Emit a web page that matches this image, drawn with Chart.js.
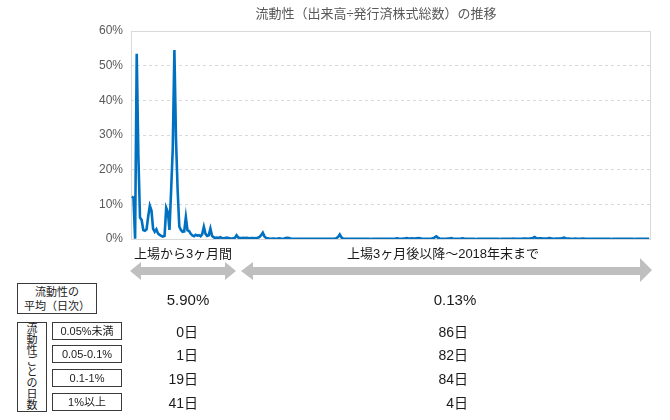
<!DOCTYPE html>
<html><head><meta charset="utf-8">
<script src="https://cdn.jsdelivr.net/npm/chart.js@4.4.1/dist/chart.umd.min.js"></script>
<style>
html,body{margin:0;padding:0;background:#fff;}
#wrap{position:relative;width:670px;height:420px;overflow:hidden;font-family:"Liberation Sans","Noto Sans CJK JP",sans-serif;color:#1a1a1a;}
#c{position:absolute;left:0;top:0;}
.t{position:absolute;white-space:nowrap;}
.box{position:absolute;border:1px solid #3a3a3a;box-sizing:border-box;display:flex;align-items:center;justify-content:center;text-align:center;font-size:11px;line-height:14px;background:#fff;}
.box span{display:block;}
.vert{font-size:11px;line-height:11px;}
svg{position:absolute;left:0;top:0;}
</style></head>
<body>
<div id="wrap">
<canvas id="c" width="670" height="420"></canvas>
<svg width="670" height="420" id="arrows"></svg>
</div>
<script>
// ---- data ----
const chartTitle = '流動性（出来高÷発行済株式総数）の推移';
const yTicks = [0, 10, 20, 30, 40, 50, 60];
// daily liquidity (%) : first 3 months after listing (61 days)
const firstPeriod = [
  12.2, 11.9, 0.08, 53.4, 24.0, 6.2, 5.5, 2.6, 2.4, 2.8,
  6.5, 9.6, 8.2, 2.9, 2.1, 2.8, 1.6, 1.2, 0.9, 0.7,
  0.9, 9.0, 7.8, 2.6, 14.0, 26.0, 54.5, 28.5, 14.0, 3.6,
  2.6, 2.1, 2.2, 6.3, 2.5, 2.3, 1.5, 1.0, 0.8, 1.2,
  0.95, 1.1, 0.8, 1.4, 3.5, 1.5, 0.9, 1.1, 3.0, 0.9,
  0.5, 0.3, 0.4, 0.3, 0.5, 0.3, 0.2, 0.3, 0.4, 0.3,
  0.2
];
// daily liquidity (%) : from 3 months after listing to end of 2018 (256 days)
const laterPeriod = [
  0.12, 0.18, 0.35, 1.05, 0.42, 0.30, 0.28, 0.33, 0.25, 0.31, 0.27, 0.22, 0.30, 0.26, 0.21, 0.24,
  0.35, 0.62, 1.10, 1.80, 0.75, 0.32, 0.18, 0.12, 0.09, 0.15, 0.11, 0.07, 0.13, 0.22, 0.12, 0.08,
  0.14, 0.28, 0.36, 0.25, 0.12, 0.08, 0.06, 0.04, 0.07, 0.05, 0.03, 0.06, 0.08, 0.04, 0.03, 0.05,
  0.07, 0.04, 0.03, 0.06, 0.09, 0.05, 0.03, 0.04, 0.07, 0.05, 0.03, 0.06, 0.08, 0.04, 0.06, 0.11,
  0.25, 0.60, 1.30, 0.45, 0.15, 0.08, 0.05, 0.04, 0.06, 0.09, 0.05, 0.03, 0.04, 0.07, 0.05, 0.03,
  0.04, 0.06, 0.08, 0.05, 0.03, 0.02, 0.04, 0.06, 0.09, 0.05, 0.03, 0.04, 0.07, 0.05, 0.08, 0.06,
  0.04, 0.03, 0.05, 0.09, 0.14, 0.22, 0.12, 0.07, 0.09, 0.15, 0.18, 0.26, 0.16, 0.12, 0.17, 0.11,
  0.14, 0.21, 0.25, 0.18, 0.12, 0.08, 0.06, 0.05, 0.07, 0.09, 0.12, 0.20, 0.45, 0.78, 0.35, 0.15,
  0.08, 0.05, 0.04, 0.06, 0.11, 0.16, 0.24, 0.13, 0.07, 0.05, 0.06, 0.09, 0.14, 0.22, 0.12, 0.06,
  0.04, 0.03, 0.05, 0.07, 0.04, 0.02, 0.03, 0.06, 0.08, 0.05, 0.03, 0.04, 0.06, 0.09, 0.05, 0.03,
  0.04, 0.07, 0.05, 0.03, 0.02, 0.04, 0.06, 0.08, 0.05, 0.03, 0.06, 0.09, 0.12, 0.08, 0.05, 0.04,
  0.06, 0.09, 0.12, 0.15, 0.11, 0.08, 0.13, 0.18, 0.32, 0.58, 0.26, 0.14, 0.17, 0.21, 0.15, 0.12,
  0.16, 0.22, 0.30, 0.18, 0.12, 0.09, 0.14, 0.11, 0.16, 0.21, 0.28, 0.40, 0.24, 0.15, 0.11, 0.08,
  0.06, 0.09, 0.12, 0.08, 0.05, 0.07, 0.10, 0.14, 0.09, 0.06, 0.04, 0.05, 0.08, 0.06, 0.04, 0.03,
  0.05, 0.07, 0.04, 0.03, 0.06, 0.08, 0.05, 0.03, 0.02, 0.04, 0.06, 0.05, 0.03, 0.04, 0.07, 0.05,
  0.03, 0.04, 0.06, 0.08, 0.05, 0.03, 0.02, 0.04, 0.06, 0.05, 0.03, 0.04, 0.06, 0.07, 0.05, 0.04
];
const periodLabels = ['上場から3ヶ月間', '上場3ヶ月後以降～2018年末まで'];
const avgLabel = '流動性の<br>平均（日次）';
const avgValues = ['5.90%', '0.13%'];
const bandLabel = '流動性ごとの日数';
const bands = ['0.05%未満', '0.05-0.1%', '0.1-1%', '1%以上'];
const daysFirst = [0, 1, 19, 41];
const daysLater = [86, 82, 84, 4];

// ---- chart ----
const values = firstPeriod.concat(laterPeriod);
const labels = values.map((_, i) => String(i + 1));

const boxPlugin = {
  id: 'areaBox',
  beforeDatasetsDraw(chart) {
    const a = chart.chartArea, ctx = chart.ctx;
    ctx.save();
    ctx.strokeStyle = '#d9d9d9';
    ctx.lineWidth = 1;
    ctx.setLineDash([]);
    ctx.strokeRect(Math.round(a.left) + 0.5, Math.round(a.top) + 0.5, Math.round(a.right - a.left), Math.round(a.bottom - a.top));
    ctx.restore();
  }
};

new Chart(document.getElementById('c'), {
  type: 'line',
  data: {
    labels: labels,
    datasets: [{
      data: values,
      borderColor: '#0070c0',
      borderWidth: 2.6,
      pointRadius: 0,
      tension: 0,
      fill: false
    }]
  },
  options: {
    responsive: false,
    animation: false,
    devicePixelRatio: 1,
    layout: { padding: { left: 0, right: 20, top: 31, bottom: 181 } },
    plugins: {
      legend: { display: false },
      tooltip: { enabled: false },
      title: { display: false }
    },
    scales: {
      x: { display: false, offset: true },
      y: {
        min: 0, max: 60,
        afterFit(s) { s.width = 131; },
        afterBuildTicks(s) { s.ticks = yTicks.map(v => ({ value: v })); },
        ticks: {
          color: '#595959',
          padding: 8,
          font: { family: '"Liberation Sans",sans-serif', size: 12 },
          callback: v => v + '%'
        },
        grid: { color: '#d9d9d9', lineWidth: 1, drawTicks: false },
        border: { display: false, dash: [3, 3] }
      }
    }
  },
  plugins: [boxPlugin]
});

// ---- arrows (annotation shapes) ----
const svg = document.getElementById('arrows');
function arrow(pts) {
  const p = document.createElementNS('http://www.w3.org/2000/svg', 'polygon');
  p.setAttribute('points', pts.map(q => q.join(',')).join(' '));
  p.setAttribute('fill', '#bfbfbf');
  svg.appendChild(p);
}
arrow([[130,271],[141,262],[141,267],[225,267],[225,262],[236,271],[225,280],[225,275],[141,275],[141,280]]);
arrow([[241,271],[253,262],[253,267],[640,267],[640,258],[652,270],[640,282],[640,275],[253,275],[253,280]]);

// ---- title, table / labels (real text) ----
const wrap = document.getElementById('wrap');
function text(str, left, top, size, align, width, color) {
  const d = document.createElement('div');
  d.className = 't';
  d.innerHTML = str;
  d.style.fontSize = size + 'px';
  d.style.lineHeight = (size + 4) + 'px';
  d.style.top = (top - (size + 4) / 2) + 'px';
  d.style.width = width + 'px';
  d.style.textAlign = align;
  d.style.color = color || '#1a1a1a';
  if (align === 'center') d.style.left = (left - width / 2) + 'px';
  else if (align === 'right') d.style.left = (left - width) + 'px';
  else d.style.left = left + 'px';
  wrap.appendChild(d);
}
function box(html, left, top, w, h, cls) {
  const d = document.createElement('div');
  d.className = 'box';
  d.style.left = left + 'px'; d.style.top = top + 'px';
  d.style.width = w + 'px'; d.style.height = h + 'px';
  const s = document.createElement('span');
  if (cls) s.className = cls;
  s.innerHTML = html;
  d.appendChild(s);
  wrap.appendChild(d);
}
text(chartTitle, 376, 13, 13, 'center', 320, '#595959');
text(periodLabels[0], 183, 253, 13, 'center', 200);
text(periodLabels[1], 443, 253, 13, 'center', 300);
box(avgLabel, 17, 283, 80, 31);
text(avgValues[0], 188, 299, 15, 'center', 100);
text(avgValues[1], 455, 299, 15, 'center', 100);
box(bandLabel.split('').join('<br>'), 17, 322, 30, 90, 'vert');
const rowTops = [322, 345, 369, 393];
bands.forEach((b, i) => {
  box(b, 52, rowTops[i], 70, 18);
  text(daysFirst[i] + '日', 198, rowTops[i] + 9.5, 14, 'right', 80);
  text(daysLater[i] + '日', 468, rowTops[i] + 9.5, 14, 'right', 80);
});
</script>
</body></html>
